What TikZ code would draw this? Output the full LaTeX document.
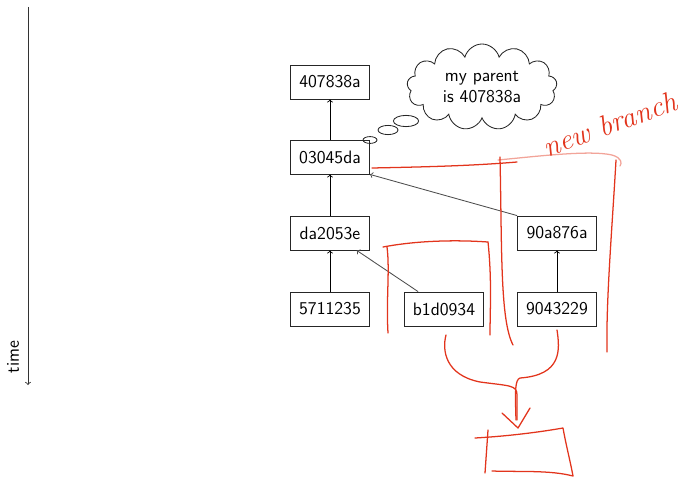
\documentclass[tikz,border=0pt]{standalone}
\usetikzlibrary{shapes.symbols,shapes.geometric}
\definecolor{handred}{RGB}{226,52,28}
\begin{document}
\begin{tikzpicture}[
        x=0.025cm, y=-0.025cm,
        line width=0.6pt,
        every node/.style={
            font=\sffamily\fontsize{12.8}{15.5}\selectfont
        },
        commit/.style={draw=black!85, minimum width=1.975cm, minimum height=0.85cm, inner sep=0pt},
        parent/.style={->},
        bubble/.style={draw=black!85, ellipse, inner sep=0pt},
        scribble/.style={draw=handred, line width=0.9pt, line cap=round, line join=round}
    ]
        \useasboundingbox (0,0) rectangle (681,479);

        % time axis
        \coordinate (tstart) at (28,7);
        \coordinate (tend) at (28,385);
        \draw[->, black!80] (tstart) -- (tend);
        \node[rotate=90] (timelabel) at (13,357) {time};

        % COMMITS
        \node[commit] (c407838a) at (330,82) {407838a};
        \node[commit] (c03045da) at (330,157) {03045da};
        \node[commit] (cda2053e) at (330,233) {da2053e};
        \node[commit] (c5711235) at (330,309) {5711235};
        \node[commit] (cb1d0934) at (444,309) {b1d0934};
        \node[commit] (c90a876a) at (557,233) {90a876a};
        \node[commit] (c9043229) at (557,309) {9043229};

        % parent links
        \draw[parent] (c03045da) -- (c407838a);
        \draw[parent] (cda2053e) -- (c03045da);
        \draw[parent] (c5711235) -- (cda2053e);
        \draw[parent, black!70] ([xshift=0.35cm]cb1d0934.north west) -- ([xshift=-0.33cm]cda2053e.south east);
        \draw[parent, black!70] (c90a876a.north west) -- (c03045da.south east);
        \draw[parent] (c9043229) -- (c90a876a);

        % THOUGHT
        \node[cloud, draw=black!85, cloud puffs=13, aspect=1.8, inner sep=1pt,
              minimum width=3.75cm, minimum height=2.15cm, align=center] (thought) at (482,87) {my parent\\is 407838a};
        \node[bubble, minimum width=0.35cm, minimum height=0.17cm] (bubblea) at (370,140) {};
        \node[bubble, minimum width=0.5cm, minimum height=0.23cm] (bubbleb) at (388,130) {};
        \node[bubble, minimum width=0.63cm, minimum height=0.28cm] (bubblec) at (406,121) {};

        % RED NOTES
        \draw[scribble] (372,168) .. controls (420,167) and (470,166) .. (517,162);
        \draw[scribble, draw=handred!45] (498,160) .. controls (540,156) and (590,150) .. (612,155) .. controls (622,158) and (622,163) .. (620,166);
        \draw[scribble] (500,157) .. controls (502,250) and (500,320) .. (513,345);
        \draw[scribble] (616,160) .. controls (612,230) and (606,300) .. (607,352);
        \node[handred, rotate=20, font=\huge\rmfamily\itshape] (newbranch) at (610,124) {new branch};

        \draw[scribble] (388,333) .. controls (386,300) and (390,270) .. (387,247);
        \draw[scribble] (383,247) .. controls (420,240) and (460,240) .. (488,242);
        \draw[scribble] (488,242) .. controls (492,280) and (490,310) .. (490,335);

        \draw[scribble] (446,335) .. controls (442,350) and (445,375) .. (480,382) .. controls (510,386) and (517,385) .. (517,395) -- (517,420);
        \draw[scribble] (557,330) .. controls (560,350) and (562,375) .. (520,378) .. controls (515,380) and (515,390) .. (516,420);
        \draw[scribble] (502,413) -- (518,428) -- (530,408);

        \draw[scribble] (475,438) .. controls (510,436) and (540,432) .. (563,428) .. controls (566,445) and (570,460) .. (573,476) .. controls (550,470) and (520,472) .. (492,471);
        \draw[scribble] (488,430) -- (485,473);
    \end{tikzpicture}
\end{document}
